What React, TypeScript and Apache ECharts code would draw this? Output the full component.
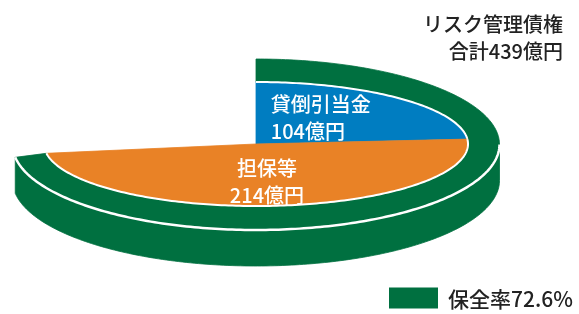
import React, { useEffect, useRef } from 'react';
import * as echarts from 'echarts';

// ---- data ----
const categories = ['貸倒引当金', '担保等'];
const values = [104, 214];
const totalValue = 439;
const coverageRatio = 72.6;
const unit = '億円';
const titleLines = ['リスク管理債権', `合計${totalValue}${unit}`];
const legendLabel = `保全率${coverageRatio}%`;

// ---- style / layout ----
const FONT = '"Noto Sans CJK JP", "Noto Sans", sans-serif';
const GREEN = '#007040';
const SLICE_COLORS = ['#007dc1', '#e98226'];
const LABEL_ALIGN = ['left', 'center'];
const LABEL_SIZE = 20;

const CX = 256;
const OUTER = { cy: 144.5, rx: 243.5, ry: 85.5 };
const INNER = { cy: 144, rx: 212, ry: 62 };
const DEPTH = 36;

type Ell = { cy: number; rx: number; ry: number };

function pt(e: Ell, deg: number, dy = 0): number[] {
  const r = (deg * Math.PI) / 180;
  return [CX + e.rx * Math.cos(r), e.cy - e.ry * Math.sin(r) + dy];
}

function arc(e: Ell, a0: number, a1: number, dy = 0): number[][] {
  const steps = Math.max(2, Math.ceil(Math.abs(a1 - a0) / 1));
  const out: number[][] = [];
  for (let i = 0; i <= steps; i++) out.push(pt(e, a0 + ((a1 - a0) * i) / steps, dy));
  return out;
}

const sumValues = values.reduce((a, b) => a + b, 0);

export default function App() {
  const ref = useRef<HTMLDivElement>(null);
  useEffect(() => {
    if (!ref.current) return;
    const chart = echarts.init(ref.current, undefined, { renderer: 'svg' });
    const option: any = {
      animation: false,
      textStyle: { fontFamily: FONT },
      title: {
        text: titleLines.join('\n'),
        left: 563,
        top: 10,
        padding: 0,
        textAlign: 'right',
        textStyle: {
          fontFamily: FONT,
          fontSize: 20,
          fontWeight: 500,
          color: '#222',
          lineHeight: 27,
        },
      },
      legend: {
        data: [{ name: legendLabel, icon: 'rect' }],
        left: 389,
        top: 287,
        padding: 0,
        itemWidth: 49,
        itemHeight: 21,
        selectedMode: false,
        textStyle: {
          fontFamily: FONT,
          fontSize: 21,
          fontWeight: 500,
          color: '#222',
          lineHeight: 22,
          padding: [0, 0, 0, 5],
        },
      },
      series: [
        {
          type: 'custom',
          name: legendLabel,
          coordinateSystem: 'none',
          itemStyle: { color: GREEN },
          data: [[coverageRatio]],
          renderItem: (params: any, api: any) => {
            const sweep = (api.value(0) / 100) * 360;
            const start = 90;
            const end = start - sweep;
            const wall = [...arc(OUTER, 0, end), ...arc(OUTER, end, 0, DEPTH)];
            const ring = [...arc(OUTER, start, end), ...arc(INNER, end, start)];
            return {
              type: 'group',
              children: [
                {
                  type: 'polygon',
                  shape: { points: wall },
                  style: { fill: GREEN, stroke: GREEN, lineWidth: 0.8 },
                },
                {
                  type: 'polygon',
                  shape: { points: ring },
                  style: { fill: GREEN, stroke: GREEN, lineWidth: 0.8 },
                },
                {
                  type: 'polyline',
                  shape: { points: arc(OUTER, 0, end) },
                  style: { fill: 'none', stroke: '#ffffff', lineWidth: 2.5 },
                },
              ],
            };
          },
        },
        {
          type: 'custom',
          name: 'slices',
          coordinateSystem: 'none',
          data: values.map((v, i) => ({ name: categories[i], value: v })),
          renderItem: (params: any, api: any) => {
            const idx = params.dataIndex;
            const v = api.value(0);
            const sweep = (coverageRatio / 100) * 360;
            const before = values.slice(0, idx).reduce((a, b) => a + b, 0);
            const a0 = 90 - (sweep * before) / sumValues;
            const a1 = a0 - (sweep * v) / sumValues;
            const color = SLICE_COLORS[idx];
            const wedge = [[CX, INNER.cy], ...arc(INNER, a0, a1)];
            const mid = ((a0 + a1) / 2) * (Math.PI / 180);
            const lx = CX + 0.45 * INNER.rx * Math.cos(mid);
            const ly = INNER.cy - 0.6 * INNER.ry * Math.sin(mid);
            const align = LABEL_ALIGN[idx];
            const name = categories[idx];
            const tx = align === 'left' ? lx - (name.length * LABEL_SIZE) / 2 : lx;
            return {
              type: 'group',
              children: [
                {
                  type: 'polygon',
                  shape: { points: wedge },
                  style: { fill: color, stroke: color, lineWidth: 0.8 },
                },
                {
                  type: 'polyline',
                  shape: { points: arc(INNER, a0, a1) },
                  style: { fill: 'none', stroke: '#ffffff', lineWidth: 2 },
                },
                {
                  type: 'text',
                  x: tx,
                  y: ly,
                  z2: 100,
                  style: {
                    text: `${name}\n${v}${unit}`,
                    fill: '#ffffff',
                    fontSize: LABEL_SIZE,
                    fontWeight: 500,
                    fontFamily: FONT,
                    lineHeight: 27,
                    align,
                    verticalAlign: 'middle',
                    textAlign: align,
                    textVerticalAlign: 'middle',
                  },
                },
              ],
            };
          },
        },
      ],
    };
    chart.setOption(option);
    return () => chart.dispose();
  }, []);
  return (
    <div
      ref={ref}
      style={{ position: 'fixed', left: 0, top: 0, width: 579, height: 314 }}
    />
  );
}
